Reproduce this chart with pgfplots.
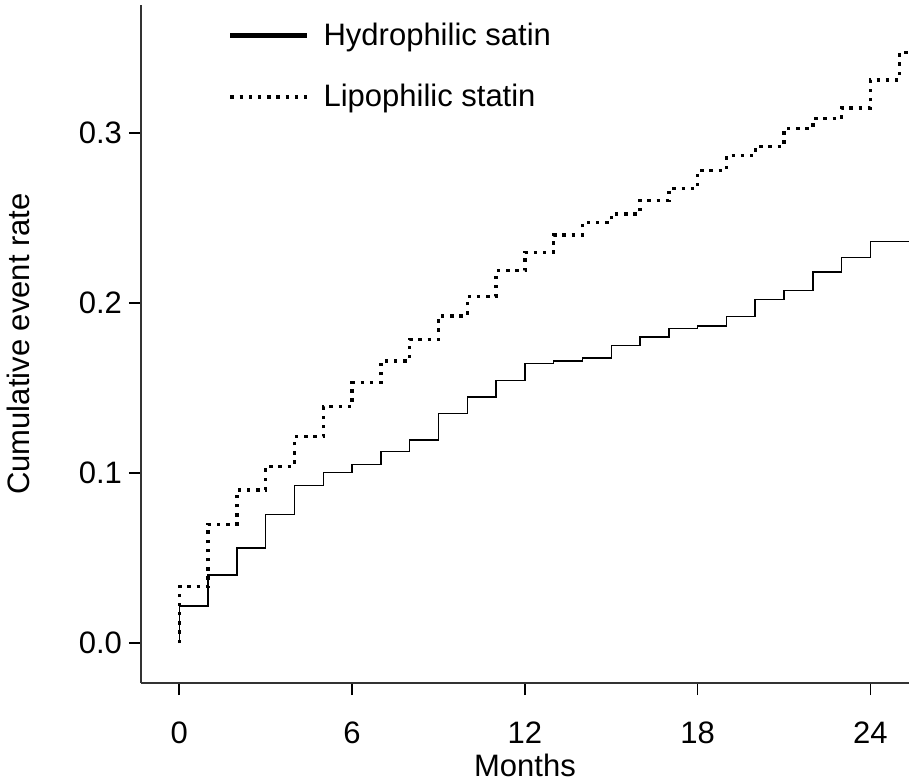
\documentclass[border=0pt]{standalone}
\usepackage{fontspec}
\setmainfont{Liberation Sans}
\usepackage{pgfplots}
\pgfplotsset{compat=1.18}

\begin{document}
\begin{tikzpicture}[font=\fontsize{15.5}{18}\selectfont]
% fix the page to the reference's proportions (axis box 384pt x 339pt)
\useasboundingbox (-70.5pt,-49pt) rectangle (384pt,341.5pt);
\begin{axis}[
    at={(0,0)}, anchor=south west,
    scale only axis,
    width=384pt, height=339pt,
    xmin=-1.33, xmax=25.34,
    ymin=-0.0235, ymax=0.3753,
    axis x line*=bottom,
    axis y line*=left,
    axis line style={-, line width=0.8pt, black!80},
    xtick={0,6,12,18,24},
    ytick={0,0.1,0.2,0.3},
    yticklabels={0.0,0.1,0.2,0.3},
    tick align=outside,
    major tick length=6pt,
    tick style={line width=0.8pt, black},
    xticklabel style={yshift=-10pt},
    /pgf/number format/assume math mode=true,
    xlabel={Months},
    ylabel={Cumulative event rate},
    xlabel style={at={(axis description cs:0.5,-0.121)}, anchor=center},
    ylabel style={at={(axis description cs:-0.160,0.5)}, anchor=center},
    legend style={draw=none, fill=none, at={(axis description cs:0.113,0.98)},
        anchor=north west, inner sep=0pt, row sep=14pt,
        nodes={inner ysep=2pt, inner xsep=7pt, anchor=west}},
    legend cell align=left,
    legend image code/.code={\draw[#1] (0pt,0pt) -- (38.5pt,0pt);},
    legend image post style={line width=2.2pt},
]
% Hydrophilic statin: solid step curve
\addplot[const plot mark left, black, line width=0.75pt] coordinates {
    (0,0) (0,0.0218) (1,0.0400) (2,0.0559) (3,0.0757) (4,0.0928)
    (5,0.1002) (6,0.1049) (7,0.1128) (8,0.1194) (9,0.1349)
    (10,0.1447) (11,0.1543) (12,0.1645) (13,0.1659) (14,0.1678)
    (15,0.1749) (16,0.1800) (17,0.1851) (18,0.1865) (19,0.1920)
    (20,0.2022) (21,0.2075) (22,0.2182) (23,0.2267) (24,0.2363)
    (25.5,0.2363)
};
\addlegendentry{Hydrophilic satin}

% Lipophilic statin: dotted step curve
\addplot[const plot mark left, black, line width=1.7pt,
    dash pattern=on 1.7pt off 2.9pt] coordinates {
    (0,0) (0,0.0331) (1,0.0698) (2,0.0900) (3,0.1040) (4,0.1214)
    (5,0.1390) (6,0.1531) (7,0.1659) (8,0.1786) (9,0.1924)
    (10,0.2037) (11,0.2190) (12,0.2298) (13,0.2400) (14,0.2473)
    (15,0.2524) (16,0.2604) (17,0.2673) (18,0.2780) (19,0.2866)
    (20,0.2920) (21,0.3027) (22,0.3084) (23,0.3147) (24,0.3312)
    (25,0.3475) (25.5,0.3475)
};
\addlegendentry{Lipophilic statin}
\end{axis}
\end{tikzpicture}
\end{document}
